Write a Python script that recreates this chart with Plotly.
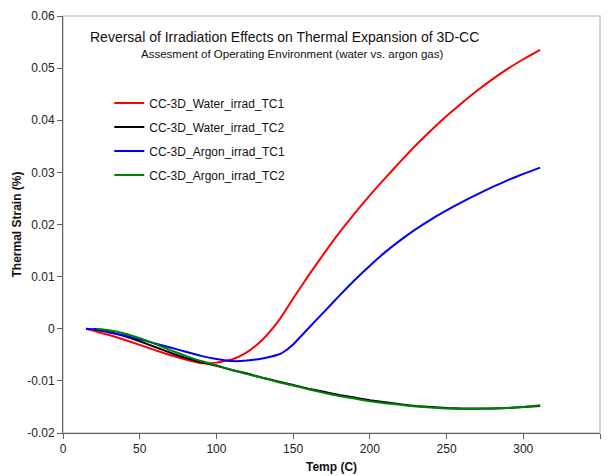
import plotly.graph_objects as go

# ---------------- data ----------------
temp_water_tc1 = [15, 20, 30, 40, 50, 60, 70, 80, 90, 100, 105, 110, 115, 120, 125, 130, 135, 140, 145, 150,
                  155, 160, 165, 170, 180, 190, 200, 210, 220, 230, 240, 250, 260, 270, 280, 290, 300, 311]
strain_water_tc1 = [0, -0.0004, -0.0012, -0.0021, -0.0031, -0.0041, -0.0051, -0.0059, -0.0066, -0.0065, -0.0062,
                    -0.0059, -0.0053, -0.0045, -0.0034, -0.0021, -0.0005, 0.0013, 0.0035, 0.0058,
                    0.0080, 0.0102, 0.0123, 0.0144, 0.0184, 0.0221, 0.0256, 0.0289, 0.0321, 0.0352, 0.0381,
                    0.0408, 0.0433, 0.0457, 0.0479, 0.0499, 0.0517, 0.0535]

temp_water_tc2 = [20, 30, 40, 50, 60, 70, 80, 90, 100, 110, 120, 130, 140, 150, 160, 170, 180, 190, 200,
                  210, 220, 230, 240, 250, 260, 270, 280, 290, 300, 311]
strain_water_tc2 = [0, -0.0006, -0.0014, -0.0024, -0.0035, -0.0046, -0.0056, -0.0064, -0.0071, -0.0079, -0.0086,
                    -0.0094, -0.0101, -0.0108, -0.0115, -0.0121, -0.0127, -0.0132, -0.0137, -0.0141, -0.0145,
                    -0.0148, -0.0150, -0.0152, -0.0153, -0.0153, -0.0153, -0.0152, -0.0150, -0.0148]

temp_argon_tc1 = [15, 20, 30, 40, 50, 60, 70, 80, 90, 100, 110, 120, 130, 140, 143, 150, 160, 170, 180, 190,
                  200, 210, 220, 230, 240, 250, 260, 270, 280, 290, 300, 311]
strain_argon_tc1 = [0, -0.0001, -0.0007, -0.0013, -0.0020, -0.0028, -0.0036, -0.0044, -0.0052, -0.0058, -0.0062,
                    -0.0061, -0.0057, -0.0050, -0.0046, -0.0030, 0.0001, 0.0032, 0.0063, 0.0093, 0.0121,
                    0.0147, 0.0170, 0.0191, 0.0210, 0.0227, 0.0243, 0.0258, 0.0272, 0.0285, 0.0297, 0.0309]

temp_argon_tc2 = [22, 30, 40, 50, 60, 70, 80, 90, 100, 110, 120, 130, 140, 150, 160, 170, 180, 190, 200,
                  210, 220, 230, 240, 250, 260, 270, 280, 290, 300, 311]
strain_argon_tc2 = [0, -0.0003, -0.0009, -0.0018, -0.0029, -0.0041, -0.0052, -0.0062, -0.0070, -0.0079, -0.0087,
                    -0.0094, -0.0102, -0.0109, -0.0116, -0.0123, -0.0129, -0.0134, -0.0139, -0.0143, -0.0146,
                    -0.0149, -0.0151, -0.0153, -0.0154, -0.0154, -0.0153, -0.0152, -0.0150, -0.0147]

series_names = ["CC-3D_Water_irrad_TC1", "CC-3D_Water_irrad_TC2", "CC-3D_Argon_irrad_TC1", "CC-3D_Argon_irrad_TC2"]
series_colors = ["#ff0000", "#000000", "#0000ff", "#008000"]

x_tick_vals = [0, 50, 100, 150, 200, 250, 300, 350]
y_tick_vals = [-0.02, -0.01, 0, 0.01, 0.02, 0.03, 0.04, 0.05, 0.06]
y_tick_text = ["-0.02", "-0.01", "0", "0.01", "0.02", "0.03", "0.04", "0.05", "0.06"]

title_text = "Reversal of Irradiation Effects on Thermal Expansion of 3D-CC"
subtitle_text = "Assesment of Operating Environment (water vs. argon gas)"

FONT = "Arial, 'Liberation Sans', sans-serif"

# ---------------- figure ----------------
fig = go.Figure()
xs = [temp_water_tc1, temp_water_tc2, temp_argon_tc1, temp_argon_tc2]
ys = [strain_water_tc1, strain_water_tc2, strain_argon_tc1, strain_argon_tc2]
for i, (name, color) in enumerate(zip(series_names, series_colors)):
    fig.add_trace(go.Scatter(x=xs[i], y=ys[i], mode="lines", name=name,
                             line=dict(color=color, width=2, shape="spline", smoothing=0.5),
                             legendgroup=f"g{i}"))

fig.update_layout(
    width=610, height=476,
    margin=dict(l=63, r=10, t=16, b=43),
    paper_bgcolor="white", plot_bgcolor="white",
    font=dict(family=FONT, size=12, color="#222222"),
    showlegend=True,
    legend=dict(x=0.0862, y=0.826, xanchor="left", yanchor="top",
                bgcolor="rgba(0,0,0,0)", borderwidth=0,
                font=dict(family=FONT, size=12, color="#111111"),
                traceorder="grouped", tracegroupgap=5),
    xaxis=dict(range=[0, 350], tickvals=x_tick_vals, showgrid=False, zeroline=False, automargin=False,
               showline=True, linecolor="#606060", linewidth=1,
               ticks="outside", ticklen=5, tickcolor="#606060",
               tickfont=dict(family=FONT, size=12, color="#222222"),
               title=dict(text="<b>Temp (C)</b>", font=dict(family=FONT, size=12, color="#111111"), standoff=7)),
    yaxis=dict(range=[-0.02, 0.06], tickvals=y_tick_vals, ticktext=y_tick_text, showgrid=False, zeroline=False,
               automargin=False,
               showline=True, linecolor="#606060", linewidth=1,
               ticks="outside", ticklen=5, tickcolor="#606060",
               tickfont=dict(family=FONT, size=12, color="#222222"),
               title=dict(text="<b>Thermal Strain (%)</b>", font=dict(family=FONT, size=12, color="#111111"), standoff=3)),
    shapes=[dict(type="rect", xref="paper", yref="paper", x0=0, y0=0, x1=1, y1=1,
                 line=dict(color="#c8c8c8", width=1.5), layer="below")],
    annotations=[
        dict(text=title_text, xref="paper", yref="paper", x=0.413, y=0.949, showarrow=False,
             xanchor="center", yanchor="middle", font=dict(family=FONT, size=14, color="#111111")),
        dict(text=subtitle_text, xref="paper", yref="paper", x=0.427, y=0.909, showarrow=False,
             xanchor="center", yanchor="middle", font=dict(family=FONT, size=11.5, color="#111111")),
    ],
)

fig.write_html("out.html", config={"displayModeBar": False},
               post_script="document.body.style.margin='0';document.body.style.padding='0';")
